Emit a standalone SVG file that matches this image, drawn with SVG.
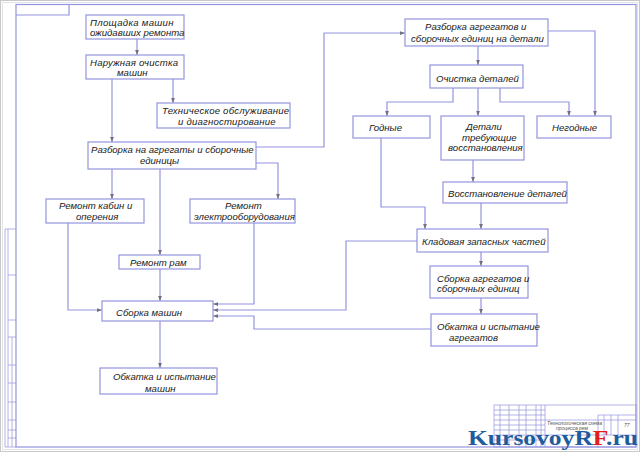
<svg xmlns="http://www.w3.org/2000/svg" width="640" height="452" viewBox="0 0 640 452">
<defs>
<marker id="ah" viewBox="0 0 8 6" refX="8" refY="3" markerWidth="5" markerHeight="4" orient="auto" markerUnits="userSpaceOnUse">
<path d="M0,0 L8,3 L0,6 Z" fill="#707080"/>
</marker>
</defs>
<style>
.bx{fill:#ffffff;stroke:#9494e0;stroke-width:1.2}
.cn{fill:none;stroke:#9494e0;stroke-width:1.2}
.ar{marker-end:url(#ah)}
.fr{fill:none;stroke:#9494e0;stroke-width:1.2}
.tb{fill:none;stroke:#9494e0;stroke-width:0.7}
.t{font-family:"Liberation Sans",Arial,sans-serif;font-style:italic;font-size:9.6px;fill:#1a1a1a}
.s{font-family:"Liberation Sans",Arial,sans-serif;font-style:italic;font-size:5px;fill:#555}
.wm{font-family:"Liberation Serif","Times New Roman",serif;font-weight:bold;font-size:21px}
</style>
<rect x="0" y="0" width="640" height="452" fill="#ffffff"/>
<rect x="0.5" y="0.5" width="639" height="451" fill="none" stroke="#c8c8c8" stroke-width="1"/>
<rect x="2.5" y="2.5" width="635" height="447" fill="none" stroke="#e4e4e4" stroke-width="1"/>
<g id="frame">
<rect class="fr" x="16" y="4.5" width="620" height="442.5"/>
<polyline class="fr" points="16,15 69,15 69,4.5"/>
<line class="tb" x1="8" y1="229" x2="8" y2="447"/>
<line class="tb" x1="5" y1="229" x2="5" y2="447"/>
<line class="tb" x1="5" y1="229" x2="16" y2="229"/>
<line class="tb" x1="8" y1="275" x2="16" y2="275"/>
<line class="tb" x1="8" y1="320" x2="16" y2="320"/>
<line class="tb" x1="8" y1="337" x2="16" y2="337"/>
<line class="tb" x1="8" y1="365" x2="16" y2="365"/>
<line class="tb" x1="8" y1="383" x2="16" y2="383"/>
<line class="tb" x1="8" y1="402" x2="16" y2="402"/>
<line class="tb" x1="8" y1="420" x2="16" y2="420"/>
<line class="tb" x1="8" y1="430" x2="16" y2="430"/>
<line class="tb" x1="8" y1="438" x2="16" y2="438"/>
<line class="tb" x1="12" y1="337" x2="12" y2="447"/>
<line class="tb" x1="5" y1="447" x2="16" y2="447"/>
</g>
<g id="titleblock">
<rect class="tb" x="494" y="405" width="142" height="42"/>
<line class="tb" x1="500" y1="405" x2="500" y2="447"/>
<line class="tb" x1="509" y1="405" x2="509" y2="447"/>
<line class="tb" x1="519" y1="405" x2="519" y2="447"/>
<line class="tb" x1="526" y1="405" x2="526" y2="447"/>
<line class="tb" x1="536" y1="405" x2="536" y2="447"/>
<line class="tb" x1="541" y1="405" x2="541" y2="447"/>
<line class="tb" x1="545" y1="405" x2="545" y2="447"/>
<line class="tb" x1="494" y1="410" x2="545" y2="410"/>
<line class="tb" x1="494" y1="415" x2="545" y2="415"/>
<line class="tb" x1="494" y1="420" x2="636" y2="420"/>
<line class="tb" x1="494" y1="425" x2="545" y2="425"/>
<line class="tb" x1="494" y1="430" x2="545" y2="430"/>
<line class="tb" x1="494" y1="435" x2="636" y2="435"/>
<line class="tb" x1="494" y1="440" x2="545" y2="440"/>
<line class="tb" x1="598" y1="415" x2="598" y2="447"/>
<line class="tb" x1="598" y1="415" x2="636" y2="415"/>
<line class="tb" x1="604" y1="415" x2="604" y2="435"/>
<line class="tb" x1="611" y1="415" x2="611" y2="435"/>
<line class="tb" x1="618" y1="415" x2="618" y2="435"/>
<text class="s" x="547" y="424.5" font-size="5.5">Технологическая схема</text>
<text class="s" x="556" y="430">процесса рем</text>
<text class="s" x="624" y="427">77</text>
</g>
<g id="connectors">
<polyline class="cn ar" points="137,39 137,55"/>
<polyline class="cn ar" points="173,79 173,103"/>
<polyline class="cn ar" points="112,79 112,142"/>
<polyline class="cn ar" points="256,147 324,147 324,33 405,33"/>
<polyline class="cn ar" points="256,163 278,163 278,199"/>
<polyline class="cn ar" points="112,169 112,199"/>
<polyline class="cn ar" points="160,169 160,255"/>
<polyline class="cn ar" points="160,269 160,301"/>
<polyline class="cn ar" points="68,223 68,310 102,310"/>
<polyline class="cn ar" points="254,223 254,304 213,304"/>
<polyline class="cn ar" points="417,241 346,241 346,310 213,310"/>
<polyline class="cn ar" points="431,329 254,329 254,316 213,316"/>
<polyline class="cn ar" points="160,321 160,368"/>
<polyline class="cn ar" points="478,46 478,65"/>
<polyline class="cn ar" points="548,31 595,31 595,116"/>
<polyline class="cn ar" points="453,88 453,102 387,102 387,116"/>
<polyline class="cn ar" points="478,88 478,116"/>
<polyline class="cn ar" points="500,88 500,102 569,102 569,116"/>
<polyline class="cn ar" points="473,160 473,182"/>
<polyline class="cn ar" points="381,138 381,207 425,207 425,229"/>
<polyline class="cn ar" points="481,203 481,229"/>
<polyline class="cn ar" points="481,252 481,266"/>
<polyline class="cn ar" points="481,298 481,314"/>
</g>
<g id="n1"><rect class="bx" x="86" y="15" width="98" height="24"/><text class="t" x="90" y="25.5" letter-spacing="0.3">Площадка машин</text><text class="t" x="90" y="36">ожидавших ремонта</text></g>
<g id="n2"><rect class="bx" x="86" y="55" width="98" height="24"/><text class="t" x="90" y="65.5" letter-spacing="0.2">Наружная очистка</text><text class="t" x="117" y="75.5">машин</text></g>
<g id="n3"><rect class="bx" x="157" y="103" width="133" height="25"/><text class="t" x="162" y="113.5" letter-spacing="0.2">Техническое обслуживание</text><text class="t" x="178" y="124.5" letter-spacing="0.2">и диагностирование</text></g>
<g id="n4"><rect class="bx" x="88" y="142" width="168" height="27"/><text class="t" x="91" y="152.5">Разборка на агрегаты и сборочные</text><text class="t" x="140" y="163.5">единицы</text></g>
<g id="n5"><rect class="bx" x="405" y="19" width="143" height="27"/><text class="t" x="425" y="29.5">Разборка агрегатов и</text><text class="t" x="411" y="41.5">сборочных единиц на детали</text></g>
<g id="n6"><rect class="bx" x="430" y="65" width="93" height="23"/><text class="t" x="436" y="81.5">Очистка деталей</text></g>
<g id="n7"><rect class="bx" x="353" y="116" width="77" height="22"/><text class="t" x="369" y="130.5">Годные</text></g>
<g id="n8"><rect class="bx" x="441" y="116" width="83" height="44"/><text class="t" x="466" y="129.5">Детали</text><text class="t" x="462" y="140.5">требующие</text><text class="t" x="448" y="151">восстановления</text></g>
<g id="n9"><rect class="bx" x="537" y="116" width="74" height="22"/><text class="t" x="552" y="130.5">Негодные</text></g>
<g id="n10"><rect class="bx" x="443" y="182" width="124" height="21"/><text class="t" x="448" y="196.5">Восстановление деталей</text></g>
<g id="n11"><rect class="bx" x="417" y="229" width="131" height="23"/><text class="t" x="422" y="244.5">Кладовая запасных частей</text></g>
<g id="n12"><rect class="bx" x="430" y="266" width="98" height="32"/><text class="t" x="437" y="281.5">Сборка агрегатов и</text><text class="t" x="437" y="291.5">сборочных единиц</text></g>
<g id="n13"><rect class="bx" x="431" y="314" width="106" height="32"/><text class="t" x="437" y="329.5">Обкатка и испытание</text><text class="t" x="449" y="340.5">агрегатов</text></g>
<g id="n14"><rect class="bx" x="46" y="199" width="98" height="24"/><text class="t" x="59" y="208.5">Ремонт кабин и</text><text class="t" x="76" y="219.5">оперения</text></g>
<g id="n15"><rect class="bx" x="190" y="199" width="105" height="24"/><text class="t" x="225" y="208.5">Ремонт</text><text class="t" x="194" y="219.5">электрооборудования</text></g>
<g id="n16"><rect class="bx" x="119" y="255" width="81" height="14"/><text class="t" x="130" y="265.5">Ремонт рам</text></g>
<g id="n17"><rect class="bx" x="102" y="301" width="111" height="20"/><text class="t" x="116" y="315.5">Сборка машин</text></g>
<g id="n18"><rect class="bx" x="100" y="368" width="117" height="26"/><text class="t" x="113" y="379.5">Обкатка и испытание</text><text class="t" x="145" y="391.5">машин</text></g>
<text class="wm" x="468" y="444.5" textLength="170" lengthAdjust="spacingAndGlyphs"><tspan fill="#1f5c9c">KursovoyR</tspan><tspan fill="#e0201c">F</tspan><tspan fill="#1f5c9c">.ru</tspan></text>
</svg>
